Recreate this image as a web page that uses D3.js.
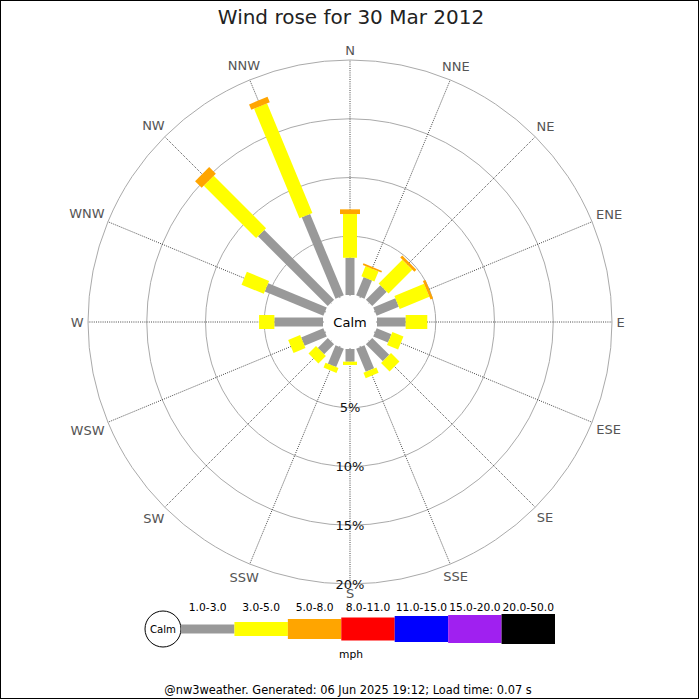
<!DOCTYPE html>
<html><head><meta charset="utf-8">
<script src="https://cdn.jsdelivr.net/npm/d3@7"></script>
<style>html,body{margin:0;padding:0;background:#fff}</style>
</head><body>
<svg id="c" width="700" height="700"></svg>
<script>
const directions = ["N","NNE","NE","ENE","E","ESE","SE","SSE","S","SSW","SW","WSW","W","WNW","NW","NNW"];
const speedBands = ["1.0-3.0","3.0-5.0","5.0-8.0","8.0-11.0","11.0-15.0","15.0-20.0","20.0-50.0"];
const bandColors = ["#999999","#ffff00","#ffa500","#ff0000","#0000ff","#a020f0","#000000"];
// percentage of time per direction, per speed band (mph)
const band1to3   = [3.17,1.68,1.74,2.04,2.44,1.36,2.04,2.13,1.08,1.70,1.20,2.05,4.14,5.40,8.40,7.50];
const band3to5   = [3.72,0.93,2.86,2.73,1.84,1.02,1.02,0.50,0.28,0.45,0.90,1.10,1.30,2.05,6.30,10.10];
const band5to8   = [0.40,0.15,0.24,0.23,0,0,0,0,0,0,0,0,0,0,0.80,0.50];
const band8to11  = [0,0,0,0,0,0,0,0,0,0,0,0,0,0,0,0];
const band11to15 = [0,0,0,0,0,0,0,0,0,0,0,0,0,0,0,0];
const band15to20 = [0,0,0,0,0,0,0,0,0,0,0,0,0,0,0,0];
const band20to50 = [0,0,0,0,0,0,0,0,0,0,0,0,0,0,0,0];
const ringTicks = [5,10,15,20];
const title = "Wind rose for 30 Mar 2012";
const footer = "@nw3weather. Generated: 06 Jun 2025 19:12; Load time: 0.07 s";

const bands = [band1to3,band3to5,band5to8,band8to11,band11to15,band15to20,band20to50];
const bandWidths = [9,14,20,23,26,28,30];
const FONT = "DejaVu Sans, sans-serif";
const cx = 350, cy = 322;
const svg = d3.select("#c");

svg.append("rect").attr("x",0.5).attr("y",0.5).attr("width",698).attr("height",698)
  .attr("fill","#fff").attr("stroke","#000").attr("stroke-width",1);

const r = d3.scaleLinear().domain([0,20]).range([27,262]);
const angle = d3.scaleLinear().domain([0,directions.length]).range([0,360]);

svg.append("text").attr("x",351).attr("y",17).attr("text-anchor","middle")
  .attr("dominant-baseline","central").attr("font-family",FONT).attr("font-size",20)
  .attr("fill","#222").text(title);

const g = svg.append("g").attr("transform",`translate(${cx},${cy})`);

// rings
g.selectAll("circle.ring").data(ringTicks).join("circle").attr("class","ring")
  .attr("r",d=>r(d)).attr("fill","none").attr("stroke","#aaa").attr("stroke-width",1);

// spokes
g.selectAll("line.spoke").data(directions).join("line").attr("class","spoke")
  .attr("x1",0).attr("y1",0)
  .attr("x2",(d,i)=>r(20)*Math.sin(angle(i)*Math.PI/180))
  .attr("y2",(d,i)=>-r(20)*Math.cos(angle(i)*Math.PI/180))
  .attr("stroke","#333").attr("stroke-width",0.9).attr("stroke-dasharray","1,1.2");

// bars
const segs = [];
directions.forEach((d,i)=>{
  let cum = 0;
  bands.forEach((b,k)=>{
    const v = b[i];
    if (v>0) segs.push({i,k,start:cum,end:cum+v});
    cum += v;
  });
});
g.selectAll("rect.seg").data(segs).join("rect").attr("class","seg")
  .attr("transform",d=>`rotate(${angle(d.i)})`)
  .attr("x",d=>-bandWidths[d.k]/2).attr("width",d=>bandWidths[d.k])
  .attr("y",d=>-r(d.end)).attr("height",d=>r(d.end)-r(d.start))
  .attr("fill",d=>bandColors[d.k]);

// calm
g.append("circle").attr("r",r(0)-1).attr("fill","#fff");
g.append("text").attr("x",0).attr("y",0).attr("text-anchor","middle").attr("dominant-baseline","central")
  .attr("font-family",FONT).attr("font-size",13).attr("fill","#000").text("Calm");

// ring labels
g.selectAll("text.pct").data(ringTicks).join("text").attr("class","pct")
  .attr("x",0).attr("y",d=>r(d)).attr("text-anchor","middle").attr("dominant-baseline","central")
  .attr("font-family",FONT).attr("font-size",13).attr("fill","#111").text(d=>d+"%");

// direction labels
const R = 266.5;
g.selectAll("text.dir").data(directions).join("text").attr("class","dir")
  .attr("text-anchor","middle").attr("dominant-baseline","central")
  .attr("font-family",FONT).attr("font-size",13).attr("fill","#555").text(d=>d)
  .each(function(d,i){
    const a = angle(i)*Math.PI/180;
    const w = this.getComputedTextLength();
    const h = 10;
    const s = Math.sin(a), c = Math.cos(a);
    const off = R + Math.abs(s)*w/2 + Math.abs(c)*h/2;
    d3.select(this).attr("x", off*s).attr("y", -off*c);
  });

// legend
const lx = d3.scaleBand().domain(speedBands).range([181,555]);
const ly = 629;
svg.append("circle").attr("cx",163).attr("cy",ly).attr("r",18).attr("fill","#fff").attr("stroke","#000");
svg.append("text").attr("x",163).attr("y",ly).attr("text-anchor","middle").attr("dominant-baseline","central")
  .attr("font-family",FONT).attr("font-size",10.2).attr("fill","#000").text("Calm");
svg.selectAll("rect.leg").data(speedBands).join("rect").attr("class","leg")
  .attr("x",d=>lx(d)).attr("width",lx.bandwidth())
  .attr("y",(d,k)=>ly-bandWidths[k]/2).attr("height",(d,k)=>bandWidths[k])
  .attr("fill",(d,k)=>bandColors[k]);
svg.selectAll("text.leg").data(speedBands).join("text").attr("class","leg")
  .attr("x",d=>lx(d)+lx.bandwidth()/2).attr("y",607).attr("text-anchor","middle")
  .attr("dominant-baseline","central").attr("font-family",FONT).attr("font-size",10.7)
  .attr("fill","#000").text(d=>d);
svg.append("text").attr("x",351).attr("y",654).attr("text-anchor","middle").attr("dominant-baseline","central")
  .attr("font-family",FONT).attr("font-size",10.7).attr("fill","#000").text("mph");

svg.append("text").attr("x",348).attr("y",690).attr("text-anchor","middle").attr("dominant-baseline","central")
  .attr("font-family",FONT).attr("font-size",11.4).attr("fill","#000").text(footer);
</script>
</body></html>
